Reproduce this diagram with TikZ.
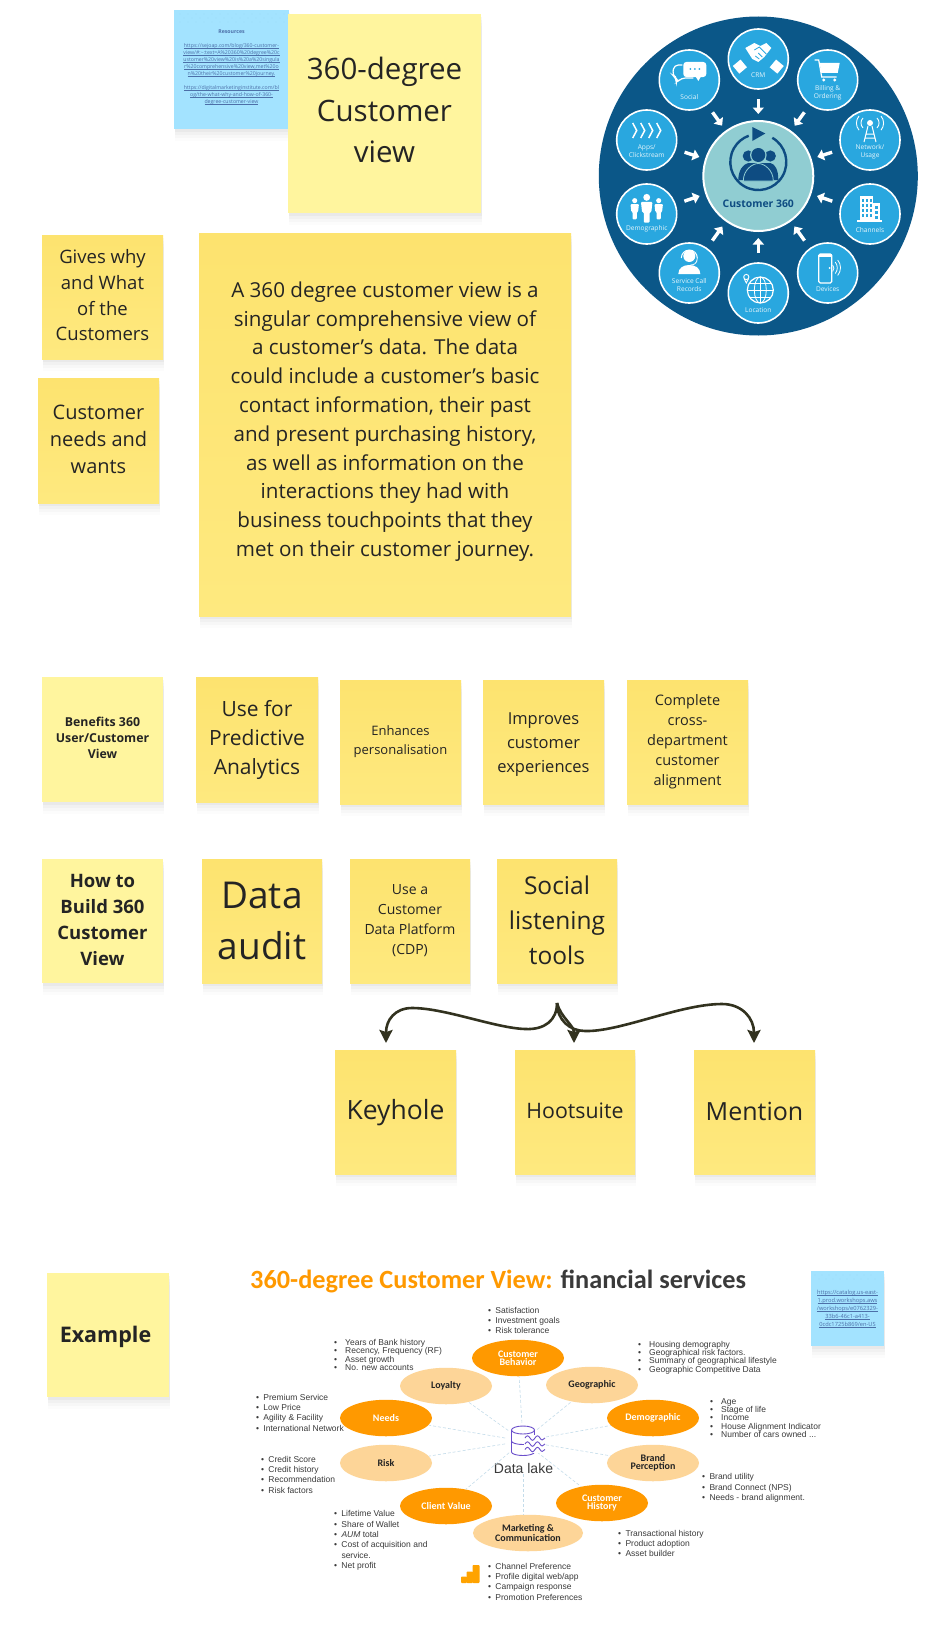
\documentclass[tikz,border=0pt]{standalone}
\usepackage{fontspec}
\setmainfont{Open Sans}
\newfontfamily\arialf{Liberation Sans}
\newfontfamily\carl{Carlito}
\usetikzlibrary{shadows,arrows.meta,shapes.geometric,calc}
\definecolor{noteY}{HTML}{FDE36F}
\definecolor{noteYb}{HTML}{FEE97F}
\definecolor{noteL}{HTML}{FFF59E}
\definecolor{noteB}{HTML}{A3E3FF}
\definecolor{ink}{HTML}{242424}
\definecolor{linkc}{HTML}{4C6FA8}
\definecolor{deep}{HTML}{0B5788}
\definecolor{sky}{HTML}{29A7DF}
\definecolor{mint}{HTML}{90CDD2}
\definecolor{navy}{HTML}{0E4C82}
\definecolor{orgS}{HTML}{FF9900}
\definecolor{orgL}{HTML}{FDD598}
\definecolor{dashc}{HTML}{C4DCEA}
\definecolor{lakec}{HTML}{6B4FCB}
\definecolor{txtg}{HTML}{3A3A3A}
\newlength\bgap
\newcommand\li[1]{\makebox[\bgap][l]{•}#1}
\newcommand\fs[2]{\fontsize{#1}{#2}\selectfont}
\newcommand\ul[1]{\setbox0\hbox{#1}\rlap{\rule[-.8pt]{\wd0}{.25pt}}\box0 }
\tikzset{
  x=1pt,y=-1pt,
  softshadow/.style={
    general shadow={shadow xshift=1pt,shadow yshift=-12pt,opacity=.012,fill=black},
    general shadow={shadow xshift=1pt,shadow yshift=-9pt,opacity=.018,fill=black},
    general shadow={shadow xshift=1pt,shadow yshift=-6pt,opacity=.025,fill=black},
    general shadow={shadow xshift=1pt,shadow yshift=-3pt,opacity=.03,fill=black}},
  note/.style={rectangle,inner sep=3pt,softshadow,align=center,text=ink,anchor=center},
  ynote/.style={note,top color=noteY,bottom color=noteYb},
  lnote/.style={note,fill=noteL},
  bnote/.style={note,fill=noteB,text=linkc},
  hub/.style={circle,draw=white,line width=1.6pt,fill=sky,minimum size=60pt,inner sep=0pt},
  hubtxt/.style={text=white!88!sky,align=center,font=\fs{6.6}{8.2}},
  feed/.style={white,line width=3.4pt,shorten <=9pt,shorten >=6pt,-{Triangle[width=11pt,length=6.5pt]}},
  ico/.style={fill=white,draw=none},
  icol/.style={draw=white,line width=1.2pt,fill=none},
  branch/.style={draw=ink!85!olive,line width=2.6pt,-{Stealth[width=13pt,length=13pt,inset=2pt]}},
  elS/.style={ellipse,fill=orgS,text=white,minimum width=92pt,minimum height=36.5pt,inner sep=0pt,align=center,font=\carl\bfseries\fs{10}{8}},
  elL/.style={ellipse,fill=orgL,text=ink,minimum width=92pt,minimum height=36.5pt,inner sep=0pt,align=center,font=\carl\bfseries\fs{10}{8}},
  spoke/.style={draw=dashc,line width=.6pt,dash pattern=on 3pt off 2pt},
  listA/.style={anchor=west,inner sep=0pt,align=left,text=txtg,font=\arialf\fs{8.5}{10.3}},
  listB/.style={anchor=west,inner sep=0pt,align=left,text=txtg,font=\arialf\fs{8.5}{8.2}},
}
\begin{document}
\begin{tikzpicture}
\useasboundingbox (0,0) rectangle (949,1646);
\fill[white] (0,0) rectangle (949,1646);

% ---------- sticky notes ----------
\node[bnote,minimum width=115pt,minimum height=119pt,font=\fs{5.2}{7}] (res) at (231.5,69.5) {%
  {\bfseries Resources}\\[7pt]
  \ul{https://sejoap.com/blog/360-customer-}\\
  \ul{view/\#:\textasciitilde:text=A\%20360\%20degree\%20c}\\
  \ul{ustomer\%20view\%20is\%20a\%20singula}\\
  \ul{r\%20comprehensive\%20view,met\%20o}\\
  \ul{n\%20their\%20customer\%20journey.}\\[7pt]
  \ul{https://digitalmarketinginstitute.com/bl}\\
  \ul{og/the-what-why-and-how-of-360-}\\
  \ul{degree-customer-view}\\[-2pt]\mbox{}};
\foreach \i in {0,...,13}{\foreach \j/\o in {0/0,1/4,2/0}{
  \fill[noteB!80!linkc] (180+\i*8+\o,14+\j*4) circle[radius=.35pt];}}
\node[lnote,minimum width=193pt,minimum height=199pt,font=\fs{29.5}{41.5}] (title360) at (384.5,113.5) {360-degree\\Customer\\view\\[-35pt]\mbox{}};
\node[ynote,minimum width=121pt,minimum height=124pt,font=\fs{18.5}{25.8}] (gives) at (102.5,297) {Gives why\\and What\\of the\\Customers\\[-22pt]\mbox{}};
\node[ynote,minimum width=121pt,minimum height=125pt,font=\fs{20}{27}] (needs) at (98.5,440.5) {Customer\\needs and\\wants\\[-24pt]\mbox{}};
\node[ynote,minimum width=372pt,minimum height=383pt,font=\fs{20.6}{28.8}] (mainnote) at (385,424.5) {A 360 degree customer view is a\\singular comprehensive view of\\a customer’s data. The data\\could include a customer’s basic\\contact information, their past\\and present purchasing history,\\as well as information on the\\interactions they had with\\business touchpoints that they\\met on their customer journey.\\[-18pt]\mbox{}};
\node[lnote,minimum width=121pt,minimum height=125pt,font=\bfseries\fs{12.3}{16}] (benefits) at (102.5,739.5) {Benefits 360\\User/Customer\\View\\[-12pt]\mbox{}};
\node[ynote,minimum width=122pt,minimum height=125pt,font=\fs{21}{29}] (usefor) at (257,739.5) {Use for\\Predictive\\Analytics};
\node[ynote,minimum width=121pt,minimum height=124pt,font=\fs{13}{19}] (enh) at (400.5,742) {Enhances\\personalisation};
\node[ynote,minimum width=121pt,minimum height=124pt,font=\fs{16.5}{24.2}] (impr) at (543.5,742) {\rule{0pt}{16.5pt}Improves\\customer\\experiences};
\node[ynote,minimum width=121pt,minimum height=124pt,font=\fs{14.5}{20}] (compl) at (687.5,742) {Complete\\cross-\\department\\customer\\alignment};
\node[lnote,minimum width=121pt,minimum height=124pt,font=\bfseries\fs{18.5}{26}] (howto) at (102.5,921) {How to\\Build 360\\Customer\\View\\[-23pt]\mbox{}};
\node[ynote,minimum width=120pt,minimum height=124pt,font=\fs{37}{50.5}] (audit) at (262,921) {Data\\audit};
\node[ynote,minimum width=120pt,minimum height=124pt,font=\fs{14}{20}] (cdp) at (410,921) {Use a\\Customer\\Data Platform\\(CDP)};
\node[ynote,minimum width=120pt,minimum height=124pt,font=\fs{24.5}{35}] (social) at (557,921) {Social\\listening\\tools\\[-33pt]\mbox{}};
\node[ynote,minimum width=121pt,minimum height=124pt,font=\fs{26.5}{30}] (key) at (395.5,1112) {\rule{0pt}{22pt}Keyhole};
\node[ynote,minimum width=120pt,minimum height=124pt,font=\fs{21.3}{30}] (hoot) at (575,1112) {Hootsuite\\[-28pt]\mbox{}};
\node[ynote,minimum width=121pt,minimum height=124pt,font=\fs{25}{30}] (mention) at (754.5,1112) {Mention\\[-28pt]\mbox{}};
\node[lnote,minimum width=122pt,minimum height=124pt,font=\bfseries\fs{21.5}{26}] (example) at (108,1335) {\rule{0pt}{20pt}Example\hspace*{5pt}};
\node[bnote,minimum width=73pt,minimum height=75pt,font=\fs{5.7}{8}] (res2) at (847.5,1308.5) {%
  \ul{https://catalog.us-east-}\\
  \ul{1.prod.workshops.aws}\\
  \ul{/workshops/e0762329-}\\
  \ul{33b6-46c1-a413-}\\
  \ul{0cdc1725b869/en-US}};
\foreach \i in {0,...,8}{\foreach \j/\o in {0/0,1/4}{
  \fill[noteB!80!linkc] (815+\i*7+\o,1275+\j*4) circle[radius=.3pt];}}

% ---------- branching connectors ----------
\coordinate (fork) at (557,1003);
\coordinate (keyin) at (386,1043);
\coordinate (hootin) at (574,1043);
\coordinate (menin) at (754,1043);
\draw[branch] (fork) .. controls (557,1020) and (545,1030) .. (525,1029) .. controls (495,1028) and (445,1008) .. (412,1008) .. controls (395,1008) and (386,1020) .. (keyin);
\draw[branch] (fork) .. controls (557,1020) and (570,1031) .. (585,1031) .. controls (620,1032) and (680,1004) .. (722,1004) .. controls (742,1004) and (754,1018) .. (menin);
\draw[branch] (fork) .. controls (561,1018) and (574,1025) .. (hootin);

% ---------- Customer 360 wheel ----------
\fill[deep] (758.3,176) circle[radius=159.5pt];
\node[circle,draw=white,line width=2pt,fill=mint,minimum size=110pt,inner sep=0pt] (cust) at (758.3,176) {};
\node[hub] (crm) at (758.3,59) {};
\node[hub] (bill) at (827.7,80) {};
\node[hub] (net) at (870,140) {};
\node[hub] (chan) at (870,214) {};
\node[hub] (dev) at (827.7,273) {};
\node[hub] (loc) at (758.3,293) {};
\node[hub] (serv) at (689.3,273) {};
\node[hub] (demo) at (646.7,214) {};
\node[hub] (apps) at (646.7,140) {};
\node[hub] (soc) at (689.3,80) {};
\foreach \h in {crm,bill,net,chan,dev,loc,serv,demo,apps,soc}{\draw[feed] (\h) -- (cust);}

% centre emblem
\begin{scope}[shift={(cust.center)}]
  \draw[navy,line width=2.4pt] (14,-38.2) arc[start angle=60,end angle=-250,radius=28pt];
  \fill[navy] (-6,-49) -- (7,-42.5) -- (-6,-35) -- cycle;
  \fill[navy] (-10,-20) circle[radius=5.6pt];
  \fill[navy] (12,-20) circle[radius=5.6pt];
  \fill[navy] (-20,4) .. controls (-20,-6) and (-15,-12) .. (-10,-13) -- (12,-13) .. controls (17,-12) and (20,-6) .. (20,4) -- cycle;
  \fill[mint] (0,-21) circle[radius=8.3pt];
  \fill[navy] (0,-21) circle[radius=7pt];
  \fill[navy,draw=mint,line width=.8pt] (-15,5) .. controls (-15,-6) and (-6,-12.5) .. (0,-12.5) .. controls (6,-12.5) and (15,-6) .. (15,5) -- cycle;
\end{scope}
\node[text=navy,font=\bfseries\fs{10.4}{12}] (custlab) at ($(cust.center)+(0,28)$) {Customer 360};

% CRM
\begin{scope}[shift={(crm.center)}]
  \fill[ico,rotate=40] (-24,-11) rectangle (-14,-1);
  \fill[ico,rotate=-40] (14,-11) rectangle (24,-1);
  \fill[ico] (-13,-11) -- (-4,-16) -- (2,-13) -- (8,-16) -- (13,-11) -- (6,-2) -- (0,3) -- (-6,0) -- cycle;
  \draw[sky,line width=.8pt] (-4,-9) -- (1,-12) -- (8,-5) (-3,-3) -- (1,0) (0,-6) -- (4,-2);
\end{scope}
\node[hubtxt] (crmlab) at ($(crm.center)+(0,16)$) {CRM};
% Billing
\begin{scope}[shift={(bill.center)}]
  \draw[icol] (-13,-20) -- (-9,-20) -- (-6,-3) -- (9,-3);
  \fill[ico] (-8,-17) -- (12,-17) -- (10,-7) -- (-6.5,-7) -- cycle;
  \fill[ico] (-4,0) circle[radius=1.6pt] (7,0) circle[radius=1.6pt];
\end{scope}
\node[hubtxt] (billlab) at ($(bill.center)+(0,13)$) {Billing \&\\Ordering};
% Network
\begin{scope}[shift={(net.center)}]
  \fill[ico] (0,-17) circle[radius=3pt];
  \draw[icol,line width=1pt] (-2,-14) -- (-6,2) (2,-14) -- (6,2) (-4,-6) -- (4,-6) (-5,-2) -- (5,-2);
  \draw[icol,line width=.9pt] (-7,-22) arc[start angle=135,end angle=225,radius=7pt];
  \draw[icol,line width=.9pt] (7,-22) arc[start angle=45,end angle=-45,radius=7pt];
  \draw[icol,line width=.9pt] (-11,-24) arc[start angle=140,end angle=220,radius=11pt];
  \draw[icol,line width=.9pt] (11,-24) arc[start angle=40,end angle=-40,radius=11pt];
\end{scope}
\node[hubtxt] (netlab) at ($(net.center)+(0,12)$) {Network/\\Usage};
% Channels
\begin{scope}[shift={(chan.center)}]
  \fill[ico] (-10,-18) rectangle (3,7);
  \fill[ico] (3,-11) rectangle (10,7);
  \fill[ico] (-13,6) rectangle (12,7.5);
  \foreach \a in {-8,-4,0}{\foreach \b in {-15,-10,-5,0}{\fill[sky] (\a,\b) rectangle ++(2.4,3);}}
  \foreach \b in {-8,-3,2}{\fill[sky] (5,\b) rectangle ++(3,2.6);}
\end{scope}
\node[hubtxt] (chanlab) at ($(chan.center)+(0,16)$) {Channels};
% Devices
\begin{scope}[shift={(dev.center)}]
  \draw[icol,rounded corners=1.5pt] (-9,-19) rectangle (4,10);
  \fill[ico] (-9,-19) rectangle (4,-16);
  \fill[ico] (2,-5) circle[radius=1pt];
  \draw[icol,line width=.8pt] (5,-8) arc[start angle=40,end angle=-40,radius=5pt];
  \draw[icol,line width=.8pt] (7.5,-11) arc[start angle=40,end angle=-40,radius=9pt];
  \draw[icol,line width=.8pt] (10,-13) arc[start angle=40,end angle=-40,radius=12pt];
\end{scope}
\node[hubtxt] (devlab) at ($(dev.center)+(0,16)$) {Devices};
% Location
\begin{scope}[shift={(loc.center)}]
  \draw[icol] (2,-3) circle[radius=13pt];
  \draw[icol,line width=.8pt] (2,-16) -- (2,10) (-11,-3) -- (15,-3) (-9,-10) -- (13,-10) (-9,4) -- (13,4);
  \draw[icol,line width=.8pt] (2,-3) ellipse[x radius=6pt,y radius=13pt];
  \fill[sky] (-12,-16) circle[radius=5pt];
  \draw[icol,line width=.9pt] (-12,-16) circle[radius=2.6pt];
  \draw[icol,line width=.9pt] (-14.2,-14.5) -- (-12,-10) -- (-9.8,-14.5);
\end{scope}
\node[hubtxt] (loclab) at ($(loc.center)+(0,17)$) {Location};
% Service
\begin{scope}[shift={(serv.center)}]
  \fill[ico] (0,-17) circle[radius=6pt];
  \draw[icol,line width=1pt] (-8,-15) arc[start angle=180,end angle=0,radius=8pt];
  \draw[icol,line width=.8pt] (8,-15) .. controls (8,-9) and (4,-8) .. (1,-8);
  \fill[ico] (-11,1) .. controls (-11,-5) and (-6,-8) .. (0,-8) .. controls (6,-8) and (11,-5) .. (11,1) -- cycle;
\end{scope}
\node[hubtxt] (servlab) at ($(serv.center)+(0,12)$) {Service Call\\Records};
% Demographic
\begin{scope}[shift={(demo.center)}]
  \foreach \s/\z in {-12/.85,12/.85,0/1.15}{
    \begin{scope}[shift={(\s,-4)},scale=\z]
      \fill[ico] (0,-11) circle[radius=3pt];
      \fill[ico,rounded corners=1pt] (-5,-7) -- (5,-7) -- (4,2) -- (2.5,2) -- (2.5,11) -- (-2.5,11) -- (-2.5,2) -- (-4,2) -- cycle;
    \end{scope}}
\end{scope}
\node[hubtxt] (demolab) at ($(demo.center)+(0,15)$) {Demographic};
% Apps
\begin{scope}[shift={(apps.center)}]
  \foreach \s in {-14,-6,2,10}{
    \draw[icol,line width=1.5pt] (\s,-17) -- (\s+4,-9.5) -- (\s,-2);}
\end{scope}
\node[hubtxt] (appslab) at ($(apps.center)+(0,11)$) {Apps/\\Clickstream};
% Social
\begin{scope}[shift={(soc.center)}]
  \draw[icol,rounded corners=4pt] (-7,-15) -- (-15,-15) -- (-17,-5) -- (-13,-2) -- (-13,3) -- (-8,-2) -- (4,-2);
  \fill[ico,rounded corners=3pt] (-6,-18) rectangle (17,-3);
  \fill[ico] (6,-4) -- (12,-4) -- (9,1) -- cycle;
  \fill[sky] (1,-11) circle[radius=1pt] (5.5,-11) circle[radius=1pt] (10,-11) circle[radius=1pt];
\end{scope}
\node[hubtxt] (soclab) at ($(soc.center)+(0,17)$) {Social};

% ---------- Example: data lake ----------
\node[anchor=west,inner sep=0pt,font=\carl\bfseries\fs{26.3}{30},text=orgS] (extitle) at (250,1281) {360-degree Customer View: \textcolor{txtg}{financial services}};

\node[circle,minimum size=36pt,inner sep=0pt] (lake) at (523,1441) {};
\node[inner sep=1pt,font=\arialf\fs{14}{16},text=txtg] (lakelab) at (523.5,1468) {Data lake};
\node[elS] (behav) at (518,1358) {Customer\\Behavior};
\node[elL] (loyal) at (446,1386) {Loyalty};
\node[elL] (geo) at (592,1385) {Geographic};
\node[elS] (needsE) at (386,1418) {Needs};
\node[elS] (demoE) at (653,1418) {Demographic};
\node[elL] (risk) at (386,1463) {Risk};
\node[elL] (brand) at (653,1463) {Brand\\Perception};
\node[elS] (client) at (446,1506) {Client Value};
\node[elS] (hist) at (602,1503) {Customer\\History};
\node[elL,minimum width=110pt] (mkt) at (528,1533) {Marketing \&\\Communication};
\foreach \e in {behav,loyal,geo,needsE,demoE,risk,brand,client,hist}{\path[spoke] (lake) -- (\e);}
\path[spoke] (lakelab) -- (lakelab|-mkt.north);

% data-lake icon
\draw[lakec,line width=.9pt,fill=white] (511.5,1430) -- (511.5,1452) arc[start angle=180,end angle=360,x radius=11.5pt,y radius=3.5pt] -- (534.5,1430);
\draw[lakec,line width=.9pt] (523,1430) ellipse[x radius=11.5pt,y radius=4pt];
\draw[lakec,line width=.9pt] (511.5,1441) arc[start angle=180,end angle=360,x radius=11.5pt,y radius=3.5pt];
\fill[white] (524,1435) rectangle (546,1453);
\foreach \w in {1438,1444,1449.5}{
  \draw[lakec,line width=.9pt] (525,\w) .. controls (527,\w-3) and (528,\w-3) .. (530,\w) .. controls (532,\w+3) and (533,\w+3) .. (535,\w) .. controls (537,\w-3) and (538,\w-3) .. (540,\w) .. controls (541.5,\w+3) and (543,\w+2) .. (545,\w);}

% analytics icon
\fill[orgS!90!yellow,rounded corners=.8pt] (461,1576.5) rectangle (467,1583);
\fill[orgS!90!yellow,rounded corners=.8pt] (466.5,1571.5) rectangle (473,1583);
\fill[orgS!90!yellow,rounded corners=.8pt] (472.5,1565) rectangle (479.5,1583);

% lists
\node[listA,execute at begin node={\setlength\bgap{7.3pt}}] (l1) at (488,1320.5) {\li{Satisfaction}\\\li{Investment goals}\\\li{Risk tolerance}};
\node[listB,execute at begin node={\setlength\bgap{11pt}}] (l2) at (334,1355) {\li{Years of Bank history}\\\li{Recency, Frequency (RF)}\\\li{Asset growth}\\\li{No. new accounts}};
\node[listA,execute at begin node={\setlength\bgap{7.3pt}}] (l3) at (256,1412.5) {\li{Premium Service}\\\li{Low Price}\\\li{Agility \& Facility}\\\li{International Network}};
\node[listA,execute at begin node={\setlength\bgap{7.3pt}}] (l4) at (261,1474.5) {\li{Credit Score}\\\li{Credit history}\\\li{Recommendation}\\\li{Risk factors}};
\node[listA,execute at begin node={\setlength\bgap{7.3pt}}] (l5) at (334,1540.5) {\li{Lifetime Value}\\\li{Share of Wallet}\\\li{\textit{AUM} total}\\\li{Cost of acquisition and}\\\makebox[\bgap]{}service.\\\li{Net profit}};
\node[listA,execute at begin node={\setlength\bgap{7.3pt}}] (l6) at (488,1581.5) {\li{Channel Preference}\\\li{Profile digital web/app}\\\li{Campaign response}\\\li{Promotion Preferences}};
\node[listB,execute at begin node={\setlength\bgap{11pt}}] (l7) at (638,1357.5) {\li{Housing demography}\\\li{Geographical risk factors.}\\\li{Summary of geographical lifestyle}\\\li{Geographic Competitive Data}};
\node[listB,execute at begin node={\setlength\bgap{11pt}}] (l8) at (710,1418) {\li{Age}\\\li{Stage of life}\\\li{Income}\\\li{House Alignment Indicator}\\\li{Number of cars owned ...}};
\node[listA,execute at begin node={\setlength\bgap{7.3pt}}] (l9) at (702,1488) {\li{Brand utility}\\\li{Brand Connect (NPS)}\\\li{Needs - brand alignment.}};
\node[listA,execute at begin node={\setlength\bgap{7.3pt}}] (l10) at (618,1543.5) {\li{Transactional history}\\\li{Product adoption}\\\li{Asset builder}};
\end{tikzpicture}
\end{document}
